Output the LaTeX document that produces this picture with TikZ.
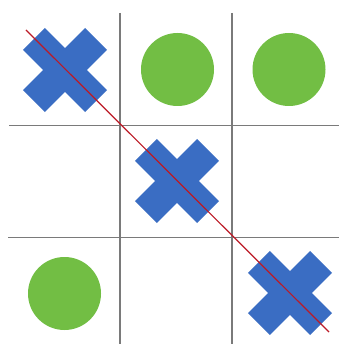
\documentclass[tikz,border=0pt]{standalone}
\usetikzlibrary{calc}
\definecolor{gridgray}{HTML}{7A7A7A}
\definecolor{crossblue}{HTML}{3A6DC3}
\definecolor{noughtgreen}{HTML}{72BE44}
\definecolor{strikered}{HTML}{BC1A26}

\begin{document}
\begin{tikzpicture}[
  x=1pt, y=-1pt,
  gridline/.style={draw=gridgray, line width=1.8pt},
  arm/.style={rectangle, fill=crossblue, minimum width=88pt, minimum height=31pt, inner sep=0pt},
  ostone/.style={circle, fill=noughtgreen, minimum size=73pt, inner sep=0pt},
  winline/.style={draw=strikered, line width=1.2pt},
]
\useasboundingbox (0,0) rectangle (339,344);

% board
\draw[gridline] (120,13) -- (120,344);
\draw[gridline] (232,13) -- (232,344);
\draw[gridline] (9,125.5) -- (339,125.5);
\draw[gridline] (8,237.5) -- (339,237.5);

% crosses on the diagonal
\foreach \cx/\cy [count=\i] in {65/70, 177/181, 290/293} {
  \node[arm, rotate=45] (xa\i) at (\cx,\cy) {};
  \node[arm, rotate=-45] (xb\i) at (\cx,\cy) {};
}

% noughts
\node[ostone] (o1) at (177.5,69.5) {};
\node[ostone] (o2) at (289,69.5) {};
\node[ostone] (o3) at (64.5,293.5) {};

% winning line
\coordinate (wstart) at (26,30);
\coordinate (wend) at (329,332);
\draw[winline] (wstart) -- (wend);
\end{tikzpicture}
\end{document}
